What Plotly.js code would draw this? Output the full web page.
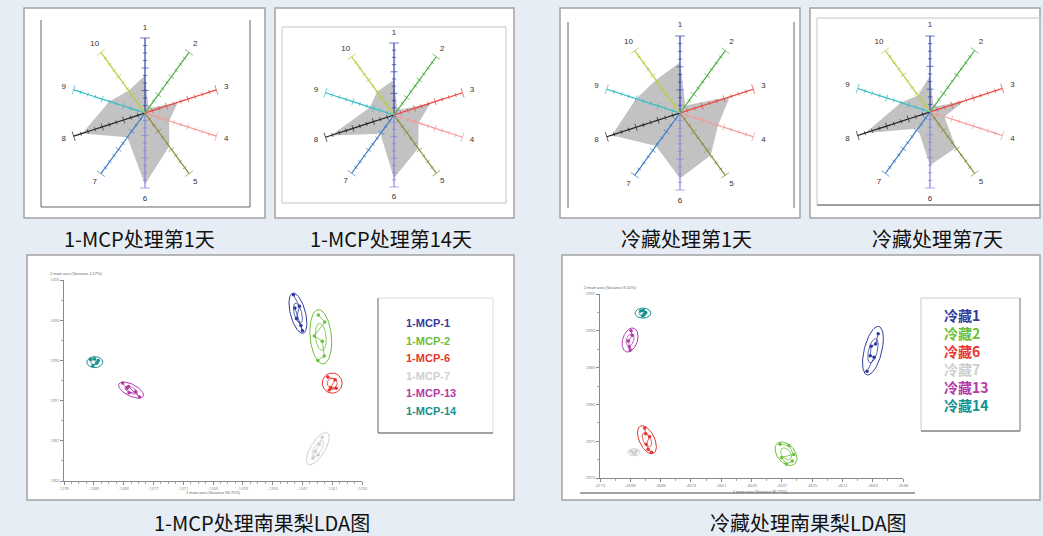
<!DOCTYPE html>
<html><head><meta charset="utf-8">
<script src="https://cdn.plot.ly/plotly-3.0.1.min.js"></script>
<style>html,body{margin:0;padding:0;background:#e6edf5;}#chart{width:1043px;height:536px;}</style>
</head><body><div id="chart"></div>
<script>
// ---------------- data ----------------
const sensors = ['1','2','3','4','5','6','7','8','9','10'];
const spokeColors = ['#3340b0','#4caf45','#e8433c','#f49a9a','#8c8c3a','#8585e0','#3f7cc4','#222222','#36bcc4','#b5cf3a'];
const spokeTicks = [0,0.1,0.2,0.3,0.4,0.5,0.6,0.7,0.8,0.9,1.0];
const radarTitles = ['1-MCP处理第1天','1-MCP处理第14天','冷藏处理第1天','冷藏处理第7天'];
const radarMCP1  = [0.50,0.08,0.46,0.34,0.55,0.95,0.40,0.88,0.50,0.37];
const radarMCP14 = [0.49,0.08,0.53,0.36,0.57,0.88,0.32,0.92,0.35,0.40];
const radarCold1 = [0.66,0.12,0.68,0.52,0.68,0.85,0.53,0.93,0.60,0.53];
const radarCold7 = [0.48,0.08,0.48,0.20,0.58,0.70,0.27,0.90,0.40,0.27];

const groupColors = ['#2f3c9e','#6cbf3a','#e8352e','#cfcfcf','#b33aa8','#17918f'];
const mcpGroups = ['1-MCP-1','1-MCP-2','1-MCP-6','1-MCP-7','1-MCP-13','1-MCP-14'];
const mcpX = [
  [-1248.8,-1247.6,-1248.2,-1247.3,-1247.0,-1248.5],
  [-1243.8,-1242.5,-1244.6,-1243.0,-1242.6,-1243.9],
  [-1241.9,-1240.4,-1241.3,-1240.2,-1241.6],
  [-1243.0,-1243.6,-1244.4,-1244.9,-1243.8],
  [-1283.2,-1282.3,-1281.9,-1280.6,-1279.8,-1282.0],
  [-1289.7,-1288.9,-1288.4,-1289.2,-1288.1]];
const mcpY = [
  [1403.3,1402.0,1400.6,1399.8,1399.2,1401.8],
  [1401.0,1400.2,1398.6,1398.0,1396.3,1395.8],
  [1393.9,1393.6,1392.7,1392.6,1392.4],
  [1387.0,1386.2,1385.4,1384.6,1385.0],
  [1393.2,1392.6,1392.1,1392.2,1391.6,1392.8],
  [1395.9,1396.0,1395.5,1395.2,1395.8]];
const mcpCx  = [-1247.9,-1243.3,-1241.0,-1243.9,-1281.5,-1288.8];
const mcpCy  = [1401.2,1398.5,1393.2,1385.7,1392.4,1395.6];
const mcpSx  = [1.8,2.2,2.0,2.3,2.5,1.6];
const mcpSy  = [2.3,3.1,1.15,1.85,0.92,0.63];
const mcpRho = [-0.5,-0.2,0,0.7,-0.6,0];
const mcpXTicks = [-1295,-1289,-1283,-1277,-1271,-1265,-1259,-1253,-1247,-1241,-1235];
const mcpYTicks = [1382,1386.6,1391.2,1395.8,1400.4,1405];
const mcpYTickText = ['1382','1387','1391','1396','1400','1405'];

const coldGroups = ['冷藏1','冷藏2','冷藏6','冷藏7','冷藏13','冷藏14'];
const coldX = [
  [-4598.0,-4599.0,-4600.8,-4601.2,-4599.6,-4602.5],
  [-4637.5,-4634.0,-4632.0,-4636.9,-4635.0,-4632.6],
  [-4692.0,-4691.6,-4690.0,-4691.4,-4690.6,-4689.3],
  [-4697.5,-4696.5,-4695.3,-4696.0],
  [-4697.5,-4697.0,-4698.6,-4698.2,-4697.8],
  [-4693.6,-4692.6,-4692.3,-4692.8,-4691.6]];
const coldY = [
  [2989.6,2988.2,2987.9,2986.6,2986.4,2984.5],
  [2974.6,2974.4,2973.2,2972.8,2971.9,2972.3],
  [2976.8,2976.0,2975.6,2974.6,2973.9,2973.5],
  [2973.6,2973.4,2973.7,2973.3],
  [2990.0,2989.4,2988.6,2987.8,2987.4],
  [2992.7,2992.8,2992.2,2992.0,2992.5]];
const coldCx  = [-4600.1,-4635.1,-4691.1,-4696.3,-4697.9,-4692.7];
const coldCy  = [2987.3,2973.3,2975.2,2973.5,2988.75,2992.4];
const coldSx  = [4.2,4.4,3.8,2.4,3.2,3.2];
const coldSy  = [3.3,1.6,1.9,0.48,1.63,0.68];
const coldRho = [0.5,-0.4,-0.5,0,0.3,0];
const coldXTicks = [-4710,-4697.8,-4685.6,-4673.4,-4661.2,-4649,-4636.8,-4624.6,-4612.4,-4600.2,-4588];
const coldYTicks = [2970,2975,2980,2985,2990,2995];

// ---------------- layout helpers ----------------
const W = 1043, H = 536;
const px = x => x / W, py = y => 1 - y / H;
const shapes = [], annotations = [], traces = [];
function box(x0,y0,x1,y1,line,width,fill){
  shapes.push({type:'rect',xref:'paper',yref:'paper',layer:'below',x0:px(x0),x1:px(x1),y0:py(y1),y1:py(y0),
    line:{color:line,width:width},fillcolor:fill||'rgba(0,0,0,0)'});
}
function seg(x0,y0,x1,y1,color,width){
  shapes.push({type:'line',xref:'paper',yref:'paper',layer:'below',x0:px(x0),x1:px(x1),y0:py(y0),y1:py(y1),
    line:{color:color,width:width}});
}
function txt(text,x,y,size,color,anchor,family){
  annotations.push({text:text,x:px(x),y:py(y),xref:'paper',yref:'paper',showarrow:false,
    xanchor:anchor||'center',yanchor:'middle',font:{size:size,color:color,family:family||'Liberation Sans, Arial, sans-serif'}});
}

// panels
box(24,8,265,218,'#a3a3a3',1.5,'#ffffff');
seg(41,20,41,207,'#666',1); seg(41,207,250,207,'#666',1); seg(250,20,250,207,'#666',1);
box(275,8,514,218,'#a3a3a3',1.5,'#ffffff');
box(282,27,506,203,'#c4c4c4',1);
box(560,8,800,218,'#a3a3a3',1.5,'#ffffff');
seg(568,22,568,208,'#666',1); seg(794,22,794,208,'#666',1);
box(810,8,1040,218,'#a3a3a3',1.5,'#ffffff');
box(817,18,1040,205,'#c4c4c4',1); seg(817,205,1040,205,'#888',1.5);
box(27,255,514,500,'#a3a3a3',1.5,'#ffffff');
box(378,298,493,433,'#dddddd',1); seg(378,298,378,433,'#888',1.2); seg(378,433,493,433,'#888',1.5);
box(562,255,1040,500,'#a3a3a3',1.5,'#ffffff');
box(921,298,1020,431,'#cccccc',1); seg(921,431,1020,431,'#888',1.5); seg(1020,298,1020,431,'#999',1.2);
seg(580,493,915,493,'#444',1);

// ---------------- radars ----------------
const radarData = [radarMCP1, radarMCP14, radarCold1, radarCold7];
const radarGeom = [[145,113,75],[394,115,72],[680,113,77],[930,112,76]];
const captionPos = [[139,238],[391,238],[686,238],[937,238]];
const RMAX = 1.2;
const layoutPolar = {};
radarData.forEach((vals, n) => {
  const sp = n === 0 ? 'polar' : 'polar' + (n + 1);
  const [cx, cy, L] = radarGeom[n];
  const R = L * RMAX;
  layoutPolar[sp] = {
    domain:{x:[px(cx-R),px(cx+R)], y:[py(cy+R),py(cy-R)]},
    bgcolor:'rgba(0,0,0,0)',
    radialaxis:{range:[0,RMAX],showline:false,showgrid:false,showticklabels:false,ticks:''},
    angularaxis:{type:'category',categoryarray:sensors,rotation:90,direction:'clockwise',
      showline:false,showgrid:false,showticklabels:false,ticks:''}
  };
  traces.push({type:'scatterpolar',subplot:sp,r:vals.concat([vals[0]]),theta:sensors.concat([sensors[0]]),
    mode:'lines',fill:'toself',fillcolor:'#c2c2c2',line:{width:0,color:'#c2c2c2'},hoverinfo:'skip'});
  sensors.forEach((s, i) => {
    traces.push({type:'scatterpolar',subplot:sp,r:spokeTicks,theta:spokeTicks.map(()=>s),
      mode:'lines+markers',cliponaxis:false,hoverinfo:'skip',
      line:{color:spokeColors[i],width:1.2},
      marker:{symbol:'line-ew',angle:36*i,color:spokeColors[i],
        size:spokeTicks.map((t,k)=> k===0 ? 0 : (k===spokeTicks.length-1 ? 7 : (k===3||k===6 ? 5 : 3))),
        line:{color:spokeColors[i],width:1}}});
  });
  traces.push({type:'scatterpolar',subplot:sp,r:sensors.map(()=>1.14),theta:sensors,mode:'text',text:sensors,
    cliponaxis:false,hoverinfo:'skip',textfont:{size:8,color:'#333',family:'Liberation Sans, Arial, sans-serif'}});
  txt(radarTitles[n],captionPos[n][0],captionPos[n][1],20,'#111','center','Noto Sans CJK SC');
});

// ---------------- LDA ----------------
function ellipse(cx,cy,sx,sy,rho,k){
  const xs=[],ys=[],q=Math.sqrt(1-rho*rho);
  for(let j=0;j<=72;j++){const t=2*Math.PI*j/72;
    xs.push(cx+k*sx*Math.cos(t)); ys.push(cy+k*sy*(rho*Math.cos(t)+q*Math.sin(t)));}
  return [xs,ys];
}
function addGroups(xa,ya,X,Y,Cx,Cy,Sx,Sy,Rho){
  X.forEach((xs,g)=>{
    const c=groupColors[g];
    const o=ellipse(Cx[g],Cy[g],Sx[g],Sy[g],Rho[g],1);
    const inn=ellipse(Cx[g],Cy[g],Sx[g],Sy[g],Rho[g],0.5);
    traces.push({type:'scatter',xaxis:xa,yaxis:ya,x:o[0],y:o[1],mode:'lines',line:{color:c,width:1},hoverinfo:'skip'});
    traces.push({type:'scatter',xaxis:xa,yaxis:ya,x:inn[0],y:inn[1],mode:'lines',line:{color:c,width:0.8},hoverinfo:'skip'});
    traces.push({type:'scatter',xaxis:xa,yaxis:ya,x:xs,y:Y[g],mode:'markers+lines',
      line:{color:c,width:0.8},marker:{color:c,size:3.5}});
  });
}
addGroups('x','y',mcpX,mcpY,mcpCx,mcpCy,mcpSx,mcpSy,mcpRho);
addGroups('x2','y2',coldX,coldY,coldCx,coldCy,coldSx,coldSy,coldRho);

const axBase = {showline:true,linecolor:'#8a8a8a',linewidth:1,ticks:'outside',ticklen:3,tickcolor:'#8a8a8a',
  tickfont:{size:4,color:'#777'},showgrid:false,zeroline:false,fixedrange:true};
const xaxis = Object.assign({},axBase,{domain:[px(64),px(362)],anchor:'y',range:[mcpXTicks[0],mcpXTicks[mcpXTicks.length-1]],
  tickvals:mcpXTicks,ticktext:mcpXTicks.map(String),minor:{ticks:'outside',ticklen:2,tickcolor:'#aaa',tick0:-1295,dtick:1.5}});
const yaxis = Object.assign({},axBase,{domain:[py(481),py(280)],anchor:'x',range:[mcpYTicks[0],mcpYTicks[mcpYTicks.length-1]],
  tickvals:mcpYTicks,ticktext:mcpYTickText,minor:{ticks:'outside',ticklen:2,tickcolor:'#aaa',tick0:1382,dtick:2.3}});
const xaxis2 = Object.assign({},axBase,{domain:[px(600),px(903)],anchor:'y2',range:[coldXTicks[0],coldXTicks[coldXTicks.length-1]],
  tickvals:coldXTicks,ticktext:coldXTicks.map(v=>String(Math.round(v))),minor:{ticks:'outside',ticklen:2,tickcolor:'#aaa',tick0:-4710,dtick:6.1}});
const yaxis2 = Object.assign({},axBase,{domain:[py(478),py(294)],anchor:'x2',range:[coldYTicks[0],coldYTicks[coldYTicks.length-1]],
  tickvals:coldYTicks,ticktext:coldYTicks.map(String),minor:{ticks:'outside',ticklen:2,tickcolor:'#aaa',tick0:2970,dtick:2.5}});

// axis titles
txt('2 main axis (Variance 1.57%)',48,273,4,'#666','left');
txt('1 main axis (Variance 96.75%)',213,492,4,'#666','center');
txt('2 main axis (Variance 8.10%)',582,287,4,'#666','left');
txt('1 main axis (Variance 86.77%)',760,491,4,'#666','center');

// legends
mcpGroups.forEach((g,k)=>txt('<b>'+g+'</b>',404,323+17.6*k,11,groupColors[k],'left'));
coldGroups.forEach((g,k)=>txt('<b>'+g+'</b>',942,315+18*k,14,groupColors[k],'left','Noto Sans CJK SC'));

// captions
txt('1-MCP处理南果梨LDA图',262,522,20,'#111','center','Noto Sans CJK SC');
txt('冷藏处理南果梨LDA图',808,522,20,'#111','center','Noto Sans CJK SC');

const layout = Object.assign({
  width:W,height:H,margin:{l:0,r:0,t:0,b:0},paper_bgcolor:'#e6edf5',plot_bgcolor:'rgba(0,0,0,0)',
  showlegend:false,shapes:shapes,annotations:annotations,
  xaxis:xaxis,yaxis:yaxis,xaxis2:xaxis2,yaxis2:yaxis2
}, layoutPolar);

Plotly.newPlot('chart',traces,layout,{displayModeBar:false,staticPlot:true});
</script></body></html>
